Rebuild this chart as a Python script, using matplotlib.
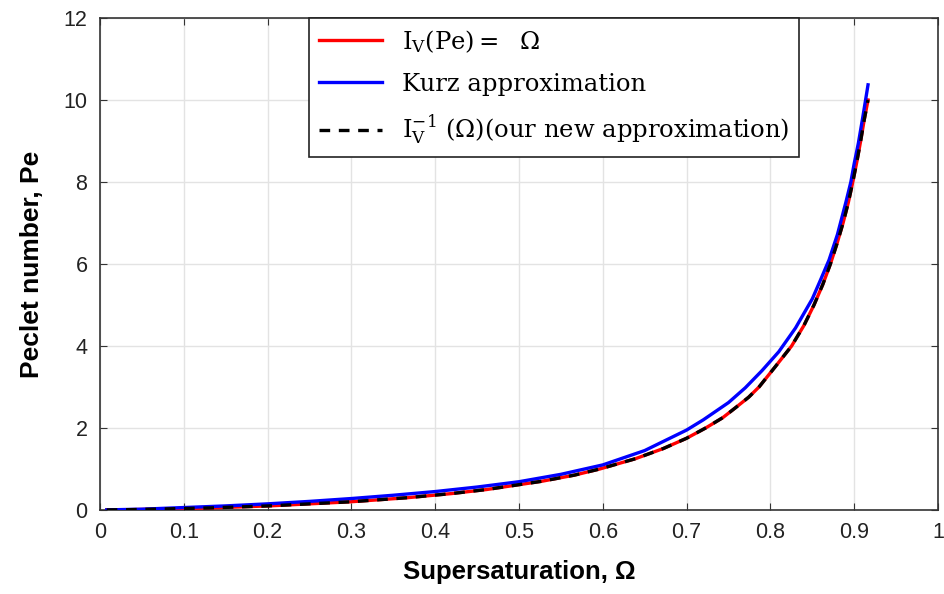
import matplotlib
matplotlib.use("Agg")
import matplotlib.pyplot as plt

# Ivantsov solution Iv(Pe) = Omega
omega_iv = [0.008, 0.041, 0.130, 0.2015, 0.2987, 0.3668, 0.4191, 0.4615, 0.5269, 0.566, 0.5963,
            0.6388, 0.6723, 0.700, 0.7227, 0.743, 0.7587, 0.774, 0.7864, 0.8060, 0.8253, 0.8400,
            0.8520, 0.8625, 0.8716, 0.8795, 0.8867, 0.8930, 0.8983, 0.9032, 0.9077, 0.9118, 0.9165]
pe_iv = [0.002, 0.01, 0.05, 0.1, 0.2, 0.3, 0.4, 0.5, 0.7, 0.85, 1.0,
         1.25, 1.5, 1.75, 2.0, 2.25, 2.5, 2.75, 3.0, 3.5, 4.0, 4.5,
         5.0, 5.5, 6.0, 6.5, 7.0, 7.5, 8.0, 8.5, 9.0, 9.5, 10.0]

# Kurz approximation
omega_kurz = [0.008, 0.05, 0.1, 0.15, 0.2, 0.25, 0.3, 0.35, 0.4, 0.45, 0.5, 0.55, 0.6,
              0.65, 0.7, 0.72, 0.75, 0.77, 0.79, 0.81, 0.83, 0.85, 0.86, 0.87, 0.88,
              0.89, 0.896, 0.9, 0.905, 0.91, 0.9165]
pe_kurz = [0.003, 0.02, 0.06, 0.10, 0.15, 0.21, 0.28, 0.36, 0.45, 0.56, 0.69, 0.87, 1.10,
           1.45, 1.95, 2.20, 2.62, 2.98, 3.40, 3.86, 4.44, 5.15, 5.62, 6.10, 6.72,
           7.50, 8.00, 8.45, 8.95, 9.55, 10.37]

# new approximation (sits on top of the Ivantsov curve)
omega_new = omega_iv
pe_new = pe_iv

plt.rcParams['mathtext.fontset'] = 'dejavuserif'

fig = plt.figure(figsize=(9.45, 5.94), dpi=100)
ax = fig.add_axes([100 / 945, 1 - 510 / 594, 838 / 945, 492 / 594])

ax.plot(omega_iv, pe_iv, color='#ff0000', lw=2.4, label=r'$\mathrm{I_V(Pe) =\ \ \Omega}$', zorder=3)
ax.plot(omega_kurz, pe_kurz, color='#0000ff', lw=2.4, label='Kurz approximation', zorder=3)
ax.plot(omega_new, pe_new, color='black', lw=2.4, linestyle=(0, (3.2, 2.6)),
        label=r'$\mathrm{I_V^{-1}}$ (Ω)(our new approximation)', zorder=4)

ax.set_xlim(0, 1)
ax.set_ylim(0, 12)
ax.set_xticks([0, 0.1, 0.2, 0.3, 0.4, 0.5, 0.6, 0.7, 0.8, 0.9, 1])
ax.set_xticklabels(['0', '0.1', '0.2', '0.3', '0.4', '0.5', '0.6', '0.7', '0.8', '0.9', '1'])
ax.set_yticks([0, 2, 4, 6, 8, 10, 12])

ax.grid(True, color='#e3e3e3', lw=1)
ax.set_axisbelow(True)
for s in ax.spines.values():
    s.set_color('#333333')
    s.set_linewidth(1.2)
ax.tick_params(direction='in', top=True, right=True, length=5, color='#333333',
               labelsize=15.5, labelcolor='#222222', pad=9)
for lab in ax.get_xticklabels() + ax.get_yticklabels():
    lab.set_family('Liberation Sans')

ax.set_xlabel('Supersaturation, Ω', fontsize=18.5, fontweight='bold', family='Liberation Sans', labelpad=12)
ax.set_ylabel('Peclet number, Pe', fontsize=19, fontweight='bold', family='Liberation Sans', labelpad=14)

leg = ax.legend(loc='upper center', bbox_to_anchor=(0.542, 1.0), fancybox=False, framealpha=1,
                edgecolor='#222222', prop={'family': 'DejaVu Serif', 'size': 17.5},
                handlelength=2.6, handletextpad=0.8, borderpad=0.4, labelspacing=0.75,
                borderaxespad=0)
leg.get_frame().set_linewidth(1.2)

fig.savefig('out.png', dpi=100)
